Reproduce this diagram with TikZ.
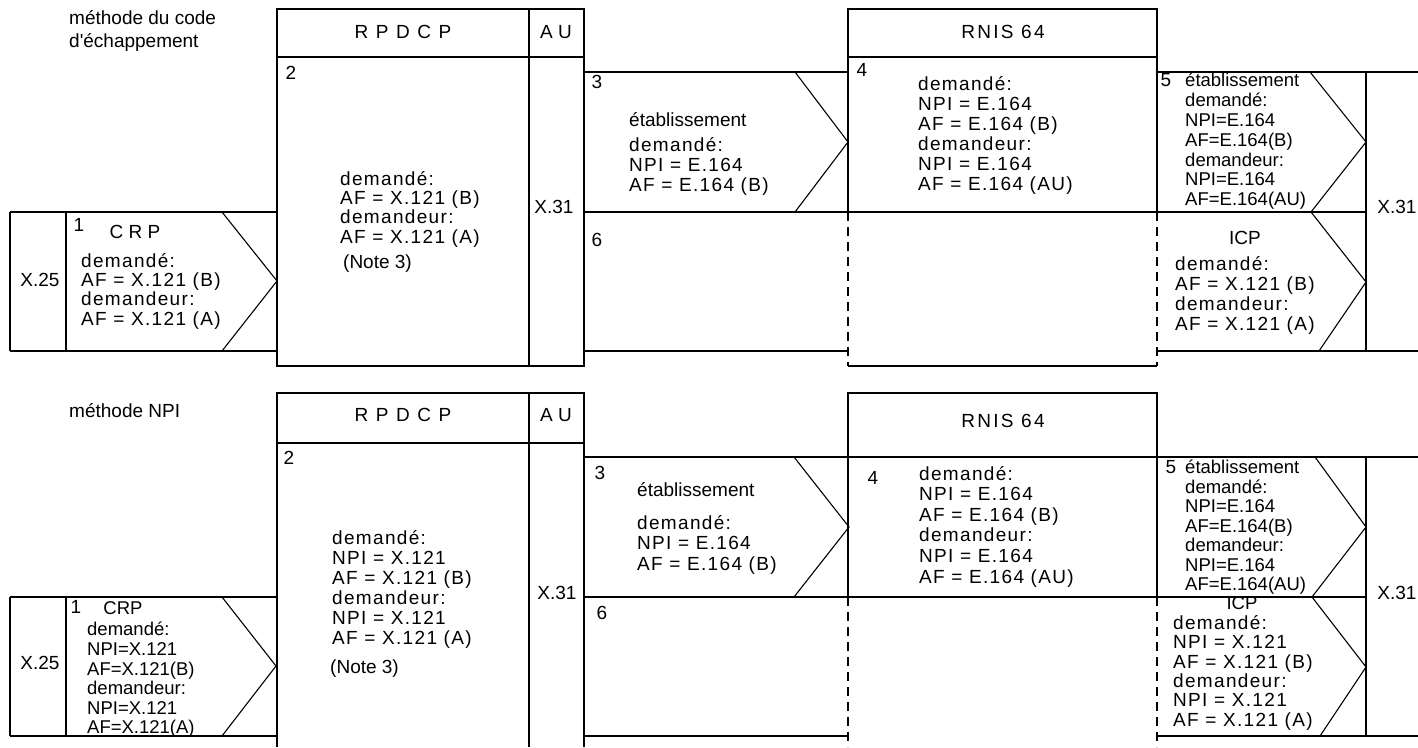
\documentclass[tikz,border=0pt]{standalone}
\usepackage{fontspec}
\setmainfont{Liberation Sans}
\newfontfamily\trkfont[LetterSpace=7]{Liberation Sans}
\newfontfamily\widefont[LetterSpace=12]{Liberation Sans}
\begin{document}
\begin{tikzpicture}[x=1pt,y=-1pt,
  thk/.style={line width=2pt},
  thn/.style={line width=1.1pt},
  dsh/.style={line width=2pt, dash pattern=on 9pt off 6pt},
  txt/.style={inner sep=0pt, align=left, anchor=north west, font=\fontsize{19}{#1}\selectfont}, txt/.default=19.7,
  ttxt/.style={inner sep=0pt, align=left, anchor=north west, font=\trkfont\fontsize{19}{#1}\selectfont}, ttxt/.default=20,
  ctxt/.style={inner sep=0pt, align=left, anchor=north west, font=\fontsize{18.5}{#1}\selectfont}, ctxt/.default=19.6,
  lbl/.style={inner sep=0pt, font=\fontsize{19}{22}\selectfont},
  clbl/.style={inner sep=0pt, font=\fontsize{18.5}{20}\selectfont},
  wlbl/.style={inner sep=0pt, font=\widefont\fontsize{19}{22}\selectfont}]
\useasboundingbox (0,0) rectangle (1418,747);

% ================= TOP: méthode du code d'échappement =================
\node[txt=23.5] (title1) at (69,10) {méthode du code\\d\textquotesingle échappement};
% RPDCP / AU
\draw[thn] (277,9) rectangle (584,366);
\draw[thk] (277,57) -- (584,57);
\draw[thk] (529,9) -- (529,366);
\node[wlbl] (rpdcp1) at (403,32) {R P D C P};
\node[lbl] (au1) at (556,32) {A U};
\node[lbl] (n2a) at (291,73) {2};
\node[ttxt=19.4] (t2a) at (340,171) {demandé:\\AF = X.121 (B)\\demandeur:\\AF = X.121 (A)};
\node[txt] (note1) at (343,255) {(Note 3)};
\node[lbl] (x31a) at (554,207) {X.31};
% CRP box
\draw[thk] (10,212) -- (277,212) (10,351) -- (277,351) (10,212) -- (10,351) (66,212) -- (66,351);
\draw[thn] (222,212) -- (277,281) -- (222,351);
\node[lbl] (x25a) at (40,280) {X.25};
\node[lbl] (n1a) at (79,225) {1};
\node[lbl] (crp1) at (135,232) {C R P};
\node[ttxt=19.4] (t1a) at (81,253) {demandé:\\AF = X.121 (B)\\demandeur:\\AF = X.121 (A)};
% middle arrows
\draw[thk] (584,72) -- (848,72) (584,212) -- (848,212) (584,351) -- (848,351);
\draw[thn] (795,72) -- (848,142) -- (795,212);
\node[lbl] (n3a) at (597,82) {3};
\node[txt] (e3a) at (629,112) {établissement};
\node[ttxt] (t3a) at (629,137) {demandé:\\NPI = E.164\\AF = E.164 (B)};
\node[lbl] (n6a) at (597,240) {6};
% RNIS 64
\draw[thn] (848,9) rectangle (1157,212);
\draw[thk] (848,57) -- (1157,57);
\draw[dsh] (848,212) -- (848,366) (1157,212) -- (1157,366);
\draw[thk] (848,366) -- (1157,366);
\node[wlbl] (rnis1) at (1003,32) {RNIS 64};
\node[lbl] (n4a) at (862,70) {4};
\node[ttxt] (t4a) at (918,76) {demandé:\\NPI = E.164\\AF = E.164 (B)\\demandeur:\\NPI = E.164\\AF = E.164 (AU)};
% right part
\draw[thk] (1157,72) -- (1418,72) (1157,212) -- (1366,212) (1157,351) -- (1418,351) (1366,72) -- (1366,351);
\draw[thn] (1310,72) -- (1366,142) -- (1311,212) -- (1366,282) -- (1319,351);
\node[lbl] (n5a) at (1166,80) {5};
\node[ctxt=19.8] (t5a) at (1185,73) {établissement\\demandé:\\NPI=E.164\\AF=E.164(B)\\demandeur:\\NPI=E.164\\AF=E.164(AU)};
\node[lbl] (icp1) at (1245,238) {ICP};
\node[ttxt] (tia) at (1175,256) {demandé:\\AF = X.121 (B)\\demandeur:\\AF = X.121 (A)};
\node[lbl] (x31b) at (1397,207) {X.31};

% ================= BOTTOM: méthode NPI =================
\node[txt] (title2) at (69,403) {méthode NPI};
% RPDCP / AU
\draw[thn] (277,747) -- (277,393) -- (584,393) -- (584,747);
\draw[thk] (277,443) -- (584,443);
\draw[thk] (529,393) -- (529,747);
\node[wlbl] (rpdcp2) at (403,415) {R P D C P};
\node[lbl] (au2) at (556,415) {A U};
\node[lbl] (n2b) at (289,458) {2};
\node[ttxt] (t2b) at (332,530) {demandé:\\NPI = X.121\\AF = X.121 (B)\\demandeur:\\NPI = X.121\\AF = X.121 (A)};
\node[txt] (note2) at (330,660) {(Note 3)};
\node[lbl] (x31c) at (557,593) {X.31};
% CRP box
\draw[thk] (10,597) -- (277,597) (10,736) -- (277,736) (10,597) -- (10,736) (66,597) -- (66,736);
\draw[thn] (222,597) -- (276,666) -- (222,736);
\node[lbl] (x25b) at (40,663) {X.25};
\node[lbl] (n1b) at (76,607) {1};
\node[clbl] (crp2) at (123,608) {CRP};
\node[ctxt] (t1b) at (87,622) {demandé:\\NPI=X.121\\AF=X.121(B)\\demandeur:\\NPI=X.121\\AF=X.121(A)};
% middle arrows
\draw[thk] (584,457) -- (848,457) (584,597) -- (848,597) (584,736) -- (848,736);
\draw[thn] (794,457) -- (849,527) -- (794,597);
\node[lbl] (n3b) at (600,473) {3};
\node[txt] (e3b) at (637,482) {établissement};
\node[ttxt=20.5] (t3b) at (637,515) {demandé:\\NPI = E.164\\AF = E.164 (B)};
\node[lbl] (n6b) at (602,613) {6};
% RNIS 64
\draw[thn] (848,393) rectangle (1157,597);
\draw[thn] (848,457) -- (1157,457);
\draw[dsh] (848,597) -- (848,747) (1157,597) -- (1157,747);
\node[wlbl] (rnis2) at (1003,421) {RNIS 64};
\node[lbl] (n4b) at (873,478) {4};
\node[ttxt=20.6] (t4b) at (919,466) {demandé:\\NPI = E.164\\AF = E.164 (B)\\demandeur:\\NPI = E.164\\AF = E.164 (AU)};
% right part
\draw[thk] (1157,457) -- (1418,457) (1157,597) -- (1366,597) (1157,736) -- (1418,736) (1366,457) -- (1366,736);
\draw[thn] (1315,457) -- (1366,527) -- (1312,597) -- (1366,667) -- (1320,736);
\node[lbl] (n5b) at (1171,467) {5};
\node[ctxt=19.5] (t5b) at (1185,460) {établissement\\demandé:\\NPI=E.164\\AF=E.164(B)\\demandeur:\\NPI=E.164\\AF=E.164(AU)};
\node[clbl] (icp2) at (1242,603) {ICP};
\node[ttxt=19.4] (tib) at (1173,615) {demandé:\\NPI = X.121\\AF = X.121 (B)\\demandeur:\\NPI = X.121\\AF = X.121 (A)};
\node[lbl] (x31d) at (1397,593) {X.31};
\end{tikzpicture}
\end{document}
